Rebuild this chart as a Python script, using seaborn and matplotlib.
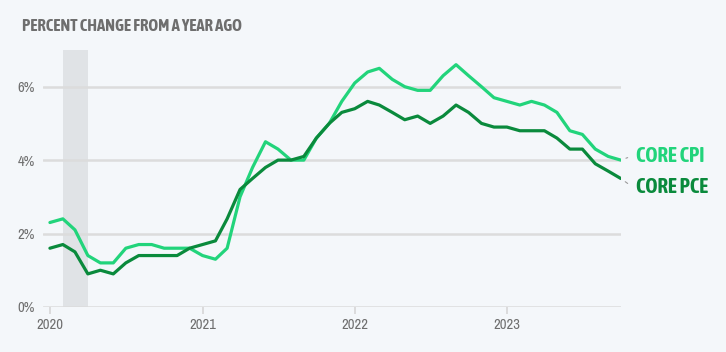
import numpy as np
import pandas as pd
import matplotlib.pyplot as plt
import matplotlib.dates as mdates
from matplotlib import font_manager
import seaborn as sns

# Datos (variacion anual, %), mensual ene 2020 - oct 2023
months = pd.date_range("2020-01-01", "2023-10-01", freq="MS")

core_cpi = [2.3, 2.4, 2.1, 1.4, 1.2, 1.2, 1.6, 1.7, 1.7, 1.6, 1.6, 1.6,
            1.4, 1.3, 1.6, 3.0, 3.8, 4.5, 4.3, 4.0, 4.0, 4.6, 5.0, 5.6,
            6.1, 6.4, 6.5, 6.2, 6.0, 5.9, 5.9, 6.3, 6.6, 6.3, 6.0, 5.7,
            5.6, 5.5, 5.6, 5.5, 5.3, 4.8, 4.7, 4.3, 4.1, 4.0]
core_pce = [1.6, 1.7, 1.5, 0.9, 1.0, 0.9, 1.2, 1.4, 1.4, 1.4, 1.4, 1.6,
            1.7, 1.8, 2.4, 3.2, 3.5, 3.8, 4.0, 4.0, 4.1, 4.6, 5.0, 5.3,
            5.4, 5.6, 5.5, 5.3, 5.1, 5.2, 5.0, 5.2, 5.5, 5.3, 5.0, 4.9,
            4.9, 4.8, 4.8, 4.8, 4.6, 4.3, 4.3, 3.9, 3.7, 3.5]

series_names = ["CORE CPI", "CORE PCE"]
series_colors = ["#22d47b", "#0a8a3c"]
y_ticks = [0, 2, 4, 6]
x_ticks = ["2020", "2021", "2022", "2023"]
recession = ("2020-02-01", "2020-04-01")

df = pd.DataFrame({"fecha": months, "CORE CPI": core_cpi, "CORE PCE": core_pce})
df = df.melt(id_vars="fecha", var_name="serie", value_name="valor")

# Confi
bg = "#f4f7fa"
grey = "#6e6e6e"
sns.set_theme(style="white")


def _w(w):
    if isinstance(w, str):
        return font_manager.weight_dict.get(w, 400)
    return int(w)


# buscar fuentes condensadas (normal y negrita)
narrow, narrow_bold, best_w = None, None, 0
for f in font_manager.fontManager.ttflist:
    n = f.name.lower()
    if ("narrow" in n or "condensed" in n) and "mono" not in n:
        w = _w(f.weight)
        if narrow is None or abs(w - 400) < 50:
            narrow = narrow or f.name
        if w > best_w:
            best_w, narrow_bold = w, f.name
if narrow:
    plt.rcParams["font.family"] = [narrow, "DejaVu Sans"]
    bold_family = [narrow_bold, "DejaVu Sans"]
    scale = 1.0
else:
    plt.rcParams["font.family"] = ["Roboto", "DejaVu Sans"]
    bold_family = ["Roboto", "DejaVu Sans"]
    scale = 0.85

fig = plt.figure(figsize=(7.26, 3.52), dpi=100, facecolor=bg)
ax = fig.add_axes([0.059, 0.128, 0.796, 0.730], facecolor=bg)

ax.axvspan(pd.Timestamp(recession[0]), pd.Timestamp(recession[1]),
           color="#e0e3e6", zorder=0, lw=0)

for t in y_ticks:
    ax.axhline(t, color="#dcdcdc", lw=1.8, zorder=1)

sns.lineplot(data=df, x="fecha", y="valor", hue="serie", hue_order=series_names,
             palette=series_colors, linewidth=2.3, legend=False, ax=ax,
             zorder=3, solid_joinstyle="round", solid_capstyle="round")

ax.set_xlim(pd.Timestamp("2019-12-15"), pd.Timestamp("2023-10-01"))
ax.set_ylim(0, 7)
for s in ax.spines.values():
    s.set_visible(False)

ax.set_yticks(y_ticks)
ax.set_yticklabels([f"{t}%" for t in y_ticks], color=grey, fontsize=10.5 * scale)
ax.set_xticks([pd.Timestamp(f"{y}-01-01") for y in x_ticks])
ax.set_xticklabels(x_ticks, color=grey, fontsize=10.5 * scale)
ax.tick_params(axis="x", length=5, width=1.2, color="#d6d6d6", pad=3, bottom=True)
ax.tick_params(axis="y", length=0, pad=6)
ax.set_xlabel("")
ax.set_ylabel("")

# Etiquetas finales
last = months[-1]
for name, vals, col, dy in [("CORE CPI", core_cpi, series_colors[0], 3),
                            ("CORE PCE", core_pce, series_colors[1], -6)]:
    ax.annotate(name, xy=(last, vals[-1]), xytext=(11, dy),
                textcoords="offset points", color=col, fontsize=15 * scale,
                fontweight="bold", family=bold_family,
                va="center", ha="left", annotation_clip=False)
    # pequeño conector gris
    ax.annotate("", xy=(last, vals[-1]), xytext=(5, dy * 0.6),
                textcoords="offset points", annotation_clip=False,
                arrowprops=dict(arrowstyle="-", color="#9a9a9a", lw=0.8,
                                shrinkA=0, shrinkB=4))

fig.text(0.030, 0.925, "PERCENT CHANGE FROM A YEAR AGO", color=grey,
         fontsize=12 * scale, fontweight="bold", family=bold_family,
         va="center", ha="left")

fig.savefig("out.png", dpi=100, facecolor=bg)
